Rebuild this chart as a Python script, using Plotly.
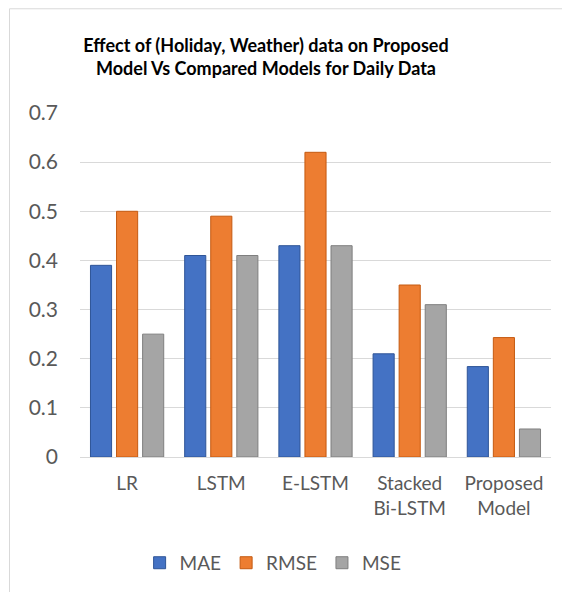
import plotly.graph_objects as go

categories = ["LR", "LSTM", "E-LSTM", "Stacked<br>Bi-LSTM", "Proposed<br>Model"]
mae = [0.39, 0.41, 0.43, 0.21, 0.184]
rmse = [0.50, 0.49, 0.62, 0.35, 0.243]
mse = [0.25, 0.41, 0.43, 0.31, 0.057]
y_ticks = [0, 0.1, 0.2, 0.3, 0.4, 0.5, 0.6, 0.7]
y_tick_labels = ["0", "0.1", "0.2", "0.3", "0.4", "0.5", "0.6", "0.7"]

fig = go.Figure()
series = [("MAE", mae, "#4472C4", "#2F5597"),
          ("RMSE", rmse, "#ED7D31", "#C55A11"),
          ("MSE", mse, "#A5A5A5", "#7F7F7F")]
for name, vals, col, edge in series:
    fig.add_trace(go.Bar(x=categories, y=vals, name=name,
                         marker=dict(color=col, line=dict(color=edge, width=1))))

font_family = "Lato, 'Open Sans', sans-serif"
W, H = 554, 584
border = dict(color="#D9D9D9", width=1)
fig.update_layout(
    width=W, height=H,
    margin=dict(l=72, r=11, t=105, b=134),
    paper_bgcolor="white", plot_bgcolor="white",
    barmode="group", bargap=0.17, bargroupgap=0.19,
    title=dict(text="<b>Effect of (Holiday, Weather) data on Proposed<br>Model Vs Compared Models for Daily Data</b>",
               x=258 / W, xanchor="center", xref="container",
               y=1 - 44 / H, yanchor="middle", yref="container",
               font=dict(family=font_family, size=18, color="#000000")),
    font=dict(family=font_family, size=19, color="#595959"),
    xaxis=dict(showgrid=False, showline=True, linecolor="#D9D9D9", linewidth=1,
               ticks="", ticklabelstandoff=9,
               tickfont=dict(size=19, color="#595959")),
    yaxis=dict(range=[0, 0.7], tickvals=y_ticks, ticktext=y_tick_labels,
               showgrid=True, gridcolor="#D9D9D9", gridwidth=1, zeroline=False,
               showline=False, ticks="", ticklabelstandoff=21,
               tickfont=dict(size=21, color="#595959")),
    legend=dict(orientation="h", x=0.41, xanchor="center", y=-0.304, yanchor="middle",
                font=dict(size=19, color="#595959"), itemwidth=30, traceorder="normal"),
    shapes=[
        dict(type="line", xref="paper", yref="paper", x0=-0.1497, x1=-0.1497,
             y0=-0.6, y1=1.303, line=border, layer="below"),
        dict(type="line", xref="paper", yref="paper", x0=-0.1497, x1=1.2,
             y0=1.303, y1=1.303, line=border, layer="below"),
    ],
)

fig.write_html("out.html")
